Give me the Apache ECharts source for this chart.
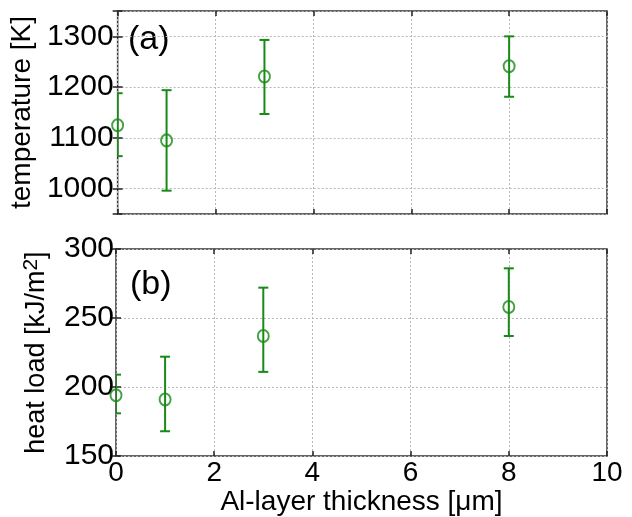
<!DOCTYPE html>
<html>
<head>
<meta charset="utf-8">
<script src="https://cdn.jsdelivr.net/npm/echarts@6/dist/echarts.min.js"></script>
<style>
html,body{margin:0;padding:0;background:#fff;}
#chart{width:632px;height:517px;}
</style>
</head>
<body>
<div id="chart"></div>
<script>
// ---- data ----
const thickness = [0, 1, 3, 8];
const temperature = [1125, 1095, 1221, 1241];
const temperatureLow = [1064, 996, 1147, 1181];
const temperatureHigh = [1188, 1194, 1293, 1300];
const heatLoad = [194, 191, 237, 258];
const heatLoadLow = [181, 168, 211, 237];
const heatLoadHigh = [209, 222, 272, 286];
const xTicks = [0, 2, 4, 6, 8, 10];
const tempTicks = [1000, 1100, 1200, 1300];
const heatTicks = [150, 200, 250, 300];

const GREEN = '#178a17';
const FONT = "'Liberation Sans', Arial, sans-serif";

function errRender(params, api) {
  const x = api.value(0), lo = api.value(1), hi = api.value(2);
  const p1 = api.coord([x, hi]);
  const p2 = api.coord([x, lo]);
  const w = 5;
  const style = { stroke: GREEN, lineWidth: 2, fill: null };
  return {
    type: 'group',
    children: [
      { type: 'line', shape: { x1: p1[0], y1: p1[1], x2: p2[0], y2: p2[1] }, style: style },
      { type: 'line', shape: { x1: p1[0] - w, y1: p1[1], x2: p1[0] + w, y2: p1[1] }, style: style },
      { type: 'line', shape: { x1: p2[0] - w, y1: p2[1], x2: p2[0] + w, y2: p2[1] }, style: style }
    ]
  };
}

const tickStyle = { show: true, inside: true, length: 5, lineStyle: { color: '#222', width: 1.5 } };
const splitStyle = { show: true, lineStyle: { color: '#b8b8b8', type: [2, 2], width: 1 } };

function xAxisPair(gi, showLabels) {
  const main = {
    type: 'value', gridIndex: gi, min: xTicks[0], max: xTicks[xTicks.length - 1], interval: 2,
    position: 'bottom',
    axisLine: { show: false },
    axisTick: tickStyle,
    splitLine: splitStyle,
    axisLabel: { show: showLabels, color: '#000', fontSize: 28, fontFamily: FONT, margin: 3 }
  };
  if (showLabels) {
    Object.assign(main, {
      name: 'Al-layer thickness [\u03bcm]', nameLocation: 'middle', nameGap: 29,
      nameTextStyle: { color: '#000', fontSize: 28, fontFamily: FONT }
    });
  }
  const top = {
    type: 'value', gridIndex: gi, min: xTicks[0], max: xTicks[xTicks.length - 1], interval: 2,
    position: 'top',
    axisLine: { show: false }, axisTick: tickStyle, splitLine: { show: false }, axisLabel: { show: false }
  };
  return [main, top];
}

const option = {
  animation: false,
  backgroundColor: '#fff',
  textStyle: { fontFamily: FONT },
  grid: [
    { left: 116, top: 11, width: 491, height: 203, show: true, borderColor: '#333', borderWidth: 1.5, backgroundColor: 'transparent' },
    { left: 116, top: 249, width: 491, height: 209, show: true, borderColor: '#333', borderWidth: 1.5, backgroundColor: 'transparent' }
  ],
  xAxis: [].concat(xAxisPair(0, false), xAxisPair(1, true)),
  yAxis: [
    {
      type: 'value', gridIndex: 0, min: 950, max: 1350, splitNumber: 4, minInterval: 100, maxInterval: 100,
      position: 'left',
      axisLine: { show: false }, axisTick: tickStyle, splitLine: splitStyle,
      axisLabel: {
        color: '#000', fontSize: 30, fontFamily: FONT, margin: 4,
        formatter: function (v) { return tempTicks.indexOf(v) >= 0 ? String(v) : ''; }
      },
      name: 'temperature [K]', nameLocation: 'middle', nameGap: 70,
      nameTextStyle: { color: '#000', fontSize: 28, fontFamily: FONT }
    },
    {
      type: 'value', gridIndex: 0, min: 950, max: 1350, splitNumber: 4, minInterval: 100, maxInterval: 100,
      position: 'right',
      axisLine: { show: false }, axisTick: tickStyle, splitLine: { show: false }, axisLabel: { show: false }
    },
    {
      type: 'value', gridIndex: 1, min: heatTicks[0], max: heatTicks[heatTicks.length - 1], interval: 50,
      position: 'left',
      axisLine: { show: false }, axisTick: tickStyle, splitLine: splitStyle,
      axisLabel: { color: '#000', fontSize: 30, fontFamily: FONT, margin: 2 },
      name: 'heat load [kJ/m{sup|2}]', nameLocation: 'middle', nameGap: 59,
      nameTextStyle: {
        color: '#000', fontSize: 27, fontFamily: FONT, lineHeight: 32,
        rich: { sup: { fontSize: 21, fontFamily: FONT, color: '#000', verticalAlign: 'top', lineHeight: 32 } }
      }
    },
    {
      type: 'value', gridIndex: 1, min: heatTicks[0], max: heatTicks[heatTicks.length - 1], interval: 50,
      position: 'right',
      axisLine: { show: false }, axisTick: tickStyle, splitLine: { show: false }, axisLabel: { show: false }
    }
  ],
  graphic: [
    { type: 'text', left: 128, top: 23, style: { text: '(a)', font: '34px ' + FONT, fill: '#000' } },
    { type: 'text', left: 130, top: 268, style: { text: '(b)', font: '34px ' + FONT, fill: '#000' } }
  ],
  series: [
    {
      type: 'custom', xAxisIndex: 0, yAxisIndex: 0, clip: true,
      renderItem: errRender, encode: { x: 0, y: [1, 2] },
      data: thickness.map((x, i) => [x, temperatureLow[i], temperatureHigh[i]]), z: 2
    },
    {
      type: 'scatter', xAxisIndex: 0, yAxisIndex: 0, clip: false,
      symbol: 'circle', symbolSize: [11, 12],
      itemStyle: { color: 'transparent', borderColor: GREEN, borderWidth: 2 },
      data: thickness.map((x, i) => [x, temperature[i]]), z: 3
    },
    {
      type: 'custom', xAxisIndex: 2, yAxisIndex: 2, clip: true,
      renderItem: errRender, encode: { x: 0, y: [1, 2] },
      data: thickness.map((x, i) => [x, heatLoadLow[i], heatLoadHigh[i]]), z: 2
    },
    {
      type: 'scatter', xAxisIndex: 2, yAxisIndex: 2, clip: false,
      symbol: 'circle', symbolSize: [11, 12],
      itemStyle: { color: 'transparent', borderColor: GREEN, borderWidth: 2 },
      data: thickness.map((x, i) => [x, heatLoad[i]]), z: 3
    }
  ]
};

const chart = echarts.init(document.getElementById('chart'), null, { renderer: 'canvas' });
chart.setOption(option);
</script>
</body>
</html>
